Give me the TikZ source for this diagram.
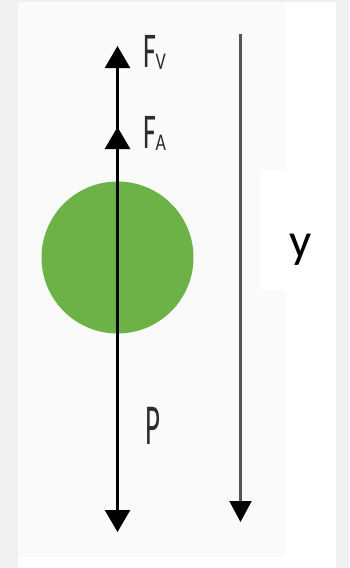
\documentclass[tikz,border=0pt]{standalone}
\usepackage{fontspec}
\setmainfont{Carlito}
\usetikzlibrary{arrows.meta}
\definecolor{bggray}{RGB}{240,240,240}
\definecolor{offwhite}{RGB}{250,250,250}
\definecolor{ballgreen}{RGB}{108,178,70}
\definecolor{axisgray}{RGB}{85,85,85}
\definecolor{labgray}{RGB}{45,45,45}
\tikzset{
  force/.style={line width=2.6pt, black, -{Triangle[length=22pt,width=25pt]}},
  axis/.style={line width=2.1pt, axisgray, -{Triangle[length=21pt,width=22pt,color=black]}},
  flabel/.style={anchor=base west, inner sep=0pt, text=labgray},
}
\newcommand{\bigF}{\scalebox{0.56}[1]{\fontsize{50}{52}\selectfont F}}
\newcommand{\subl}[1]{\raisebox{-2.5pt}{\scalebox{0.75}[1]{\fontsize{24}{25}\selectfont #1}}}
\begin{document}
\begin{tikzpicture}[x=1pt,y=-1pt]
\useasboundingbox (0,0) rectangle (349,568);
\fill[bggray] (0,0) rectangle (349,568);
\fill[white] (18,2) rectangle (336,568);
\fill[offwhite] (18,2) rectangle (285,557);
\fill[white] (260,170) rectangle (336,290);
% ball
\node[circle, fill=ballgreen, minimum size=152pt, inner sep=0pt] (ball) at (117.5,257.5) {};
% force line
\coordinate (c) at (117.5,258);
\coordinate (top) at (117.5,46);
\coordinate (fa) at (117.5,127);
\coordinate (bot) at (117.5,532);
\draw[force] (c) -- (top);
\draw[force] (c) -- (fa);
\draw[force] (c) -- (bot);
% labels
\node[flabel] (fv) at (143,67) {\bigF\kern-0.5pt\subl{V}};
\node[flabel] (fal) at (143,148) {\bigF\kern-0.5pt\subl{A}};
\node[flabel] (p) at (145,444) {\scalebox{0.5}[1]{\fontsize{58}{60}\selectfont P}};
% y axis
\coordinate (ytop) at (240.5,34);
\coordinate (ybot) at (240.5,522);
\draw[axis] (ytop) -- (ybot);
\node[font=\fontsize{49}{52}\selectfont, inner sep=0pt] (ylab) at (301,250) {y};
\end{tikzpicture}
\end{document}
